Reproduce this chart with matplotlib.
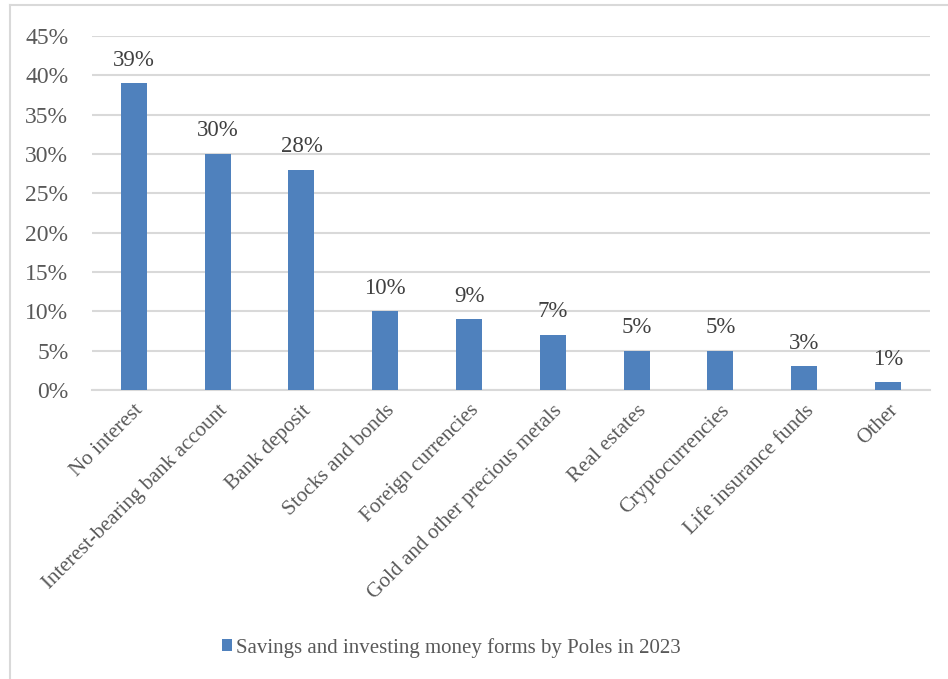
import matplotlib
matplotlib.use("Agg")
import matplotlib.pyplot as plt
from matplotlib.lines import Line2D
from matplotlib.ticker import FuncFormatter, MultipleLocator

categories = ["No interest", "Interest-bearing bank account", "Bank deposit",
              "Stocks and bonds", "Foreign currencies", "Gold and other precious metals",
              "Real estates", "Cryptocurrencies", "Life insurance funds", "Other"]
values = [39, 30, 28, 10, 9, 7, 5, 5, 3, 1]
series_name = "Savings and investing money forms by Poles in 2023"

plt.rcParams['font.family'] = ['Liberation Serif', 'DejaVu Serif']
text_color = "#595959"
bar_color = "#4F81BD"
grid_color = "#D9D9D9"

fig = plt.figure(figsize=(9.48, 6.79), dpi=100)
ax = fig.add_axes([0.097, 0.4256, 0.884, 0.5214])

x = list(range(len(categories)))
fracs = [v / 100 for v in values]
bars = ax.bar(x, fracs, width=0.31, color=bar_color, label=series_name, zorder=3)

ax.set_xlim(-0.5, len(categories) - 0.5)
ax.set_ylim(0, 0.45)
ax.yaxis.set_major_locator(MultipleLocator(0.05))
ax.yaxis.set_major_formatter(FuncFormatter(lambda v, p: f"{round(v*100)}%"))
ax.grid(axis='y', color=grid_color, linewidth=1.5, zorder=0)
for s in ['top', 'right', 'left']:
    ax.spines[s].set_visible(False)
ax.spines['bottom'].set_color(grid_color)
ax.spines['bottom'].set_linewidth(1.5)
ax.tick_params(axis='both', length=0, colors=text_color)
ax.tick_params(axis='y', pad=17, labelsize=17)
ax.set_xticks(x)
ax.set_xticklabels(categories, rotation=45, ha='right', rotation_mode='anchor',
                   color=text_color, fontsize=15.3)
ax.tick_params(axis='x', pad=8)

for xi, f, v in zip(x, fracs, values):
    ax.annotate(f"{v}%", (xi, f), xytext=(0, 9), textcoords='offset points',
                ha='center', va='bottom', fontsize=16.5, color="#404040")

fig.legend(handles=[bars], labels=[series_name], loc='center',
           bbox_to_anchor=(0.476, 0.046), frameon=False, fontsize=15,
           handlelength=0.5, handleheight=0.5, handletextpad=0.2, labelcolor=text_color)

fig.add_artist(Line2D([0.0105, 0.0105], [0, 0.992], transform=fig.transFigure,
                      color=grid_color, linewidth=1.5))
fig.add_artist(Line2D([0.0105, 1.0], [0.992, 0.992], transform=fig.transFigure,
                      color=grid_color, linewidth=1.5))

fig.savefig("out.png", dpi=100, facecolor='white')
